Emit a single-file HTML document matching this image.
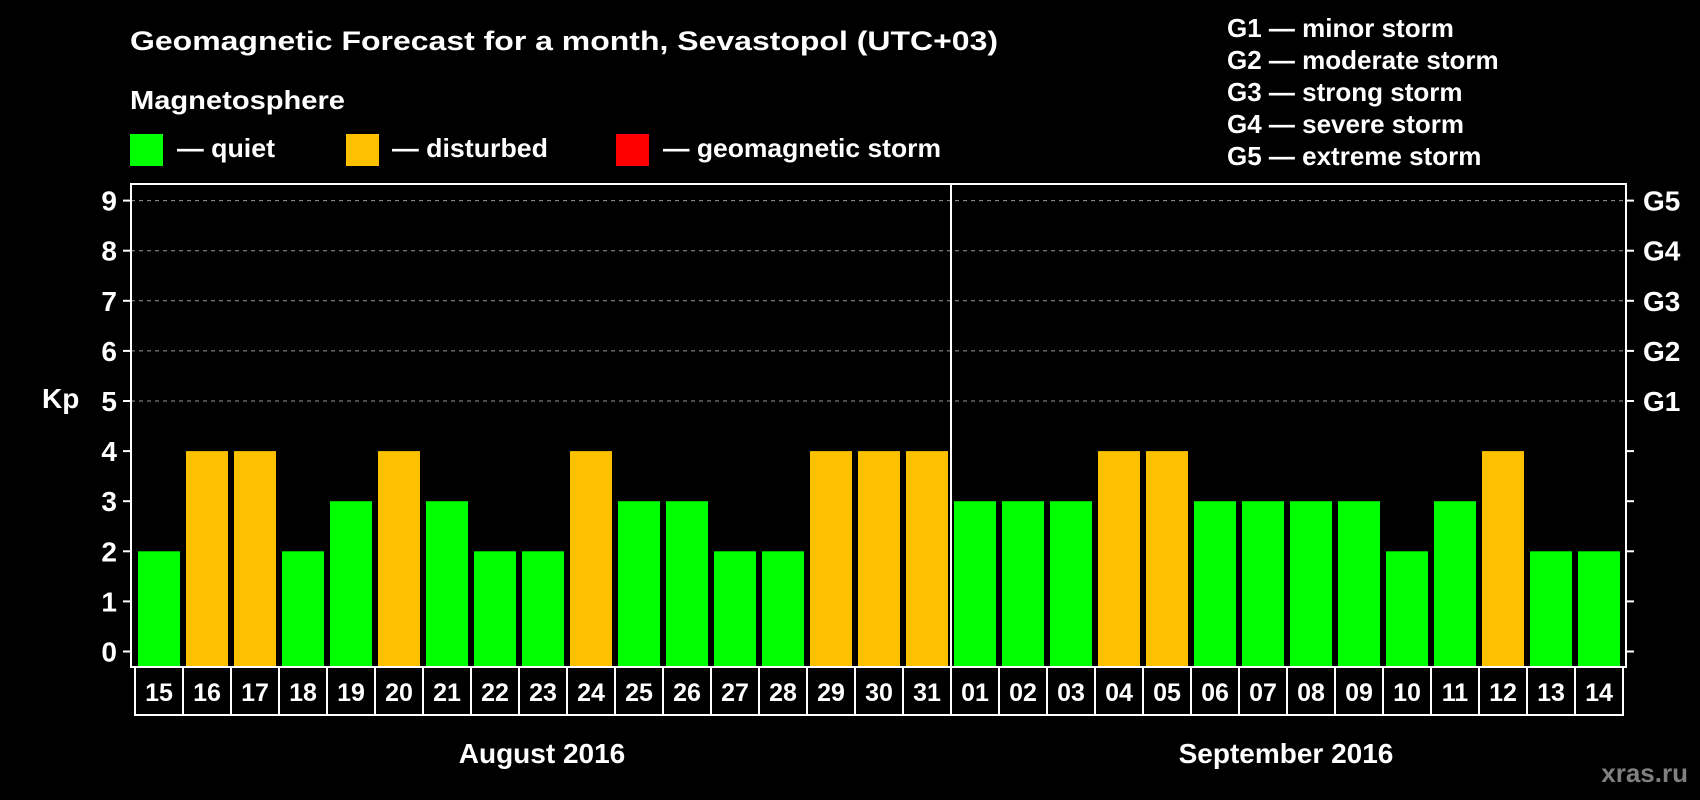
<!DOCTYPE html>
<html><head><meta charset="utf-8"><style>
html,body{margin:0;padding:0;background:#000;}
svg{display:block;font-family:"Liberation Sans",Arial,sans-serif;font-weight:bold;}
</style></head><body>
<svg id="c" width="1700" height="800" viewBox="0 0 1700 800">
<rect x="0" y="0" width="1700" height="800" fill="#000"/>
<text x="130" y="50" fill="#fff" font-size="27" textLength="868" lengthAdjust="spacingAndGlyphs">Geomagnetic Forecast for a month, Sevastopol (UTC+03)</text>
<text x="130" y="109" fill="#fff" font-size="26" textLength="215" lengthAdjust="spacingAndGlyphs">Magnetosphere</text>
<g><rect x="130" y="134" width="33" height="32" fill="#00ff00"/><text x="177" y="157" fill="#fff" font-size="26" textLength="98" lengthAdjust="spacingAndGlyphs">— quiet</text></g>
<g><rect x="346" y="134" width="33" height="32" fill="#ffc000"/><text x="392" y="157" fill="#fff" font-size="26" textLength="156" lengthAdjust="spacingAndGlyphs">— disturbed</text></g>
<g><rect x="616" y="134" width="33" height="32" fill="#ff0000"/><text x="663" y="157" fill="#fff" font-size="26" textLength="278" lengthAdjust="spacingAndGlyphs">— geomagnetic storm</text></g>
<g fill="#fff" font-size="26">
<text x="1227" y="37">G1 — minor storm</text>
<text x="1227" y="69">G2 — moderate storm</text>
<text x="1227" y="101">G3 — strong storm</text>
<text x="1227" y="133">G4 — severe storm</text>
<text x="1227" y="165">G5 — extreme storm</text>
</g>
<text x="42" y="408" fill="#fff" font-size="28">Kp</text>
<g id="plot"></g>
<text x="542" y="763" fill="#fff" font-size="28" text-anchor="middle">August 2016</text>
<text x="1286" y="763" fill="#fff" font-size="28" text-anchor="middle">September 2016</text>
<text x="1688" y="782" fill="#808080" font-size="26" text-anchor="end">xras.ru</text>
</svg>
<script>
const days = ["15","16","17","18","19","20","21","22","23","24","25","26","27","28","29","30","31","01","02","03","04","05","06","07","08","09","10","11","12","13","14"];
const kpValues = [2,4,4,2,3,4,3,2,2,4,3,3,2,2,4,4,4,3,3,3,4,4,3,3,3,3,2,3,4,2,2];
const yTicks = [0,1,2,3,4,5,6,7,8,9];
const gLabels = ["","","","","","G1","G2","G3","G4","G5"];
const NS="http://www.w3.org/2000/svg";
const g=document.getElementById('plot');
const L=131,R=1626,T=184,B=667;
const y0=651.5, unit=50.1;
function yS(v){return y0-v*unit;}
function xS(i){return 138+i*48;}
const BW=42;
function mk(t,a){const e=document.createElementNS(NS,t);for(const k in a)e.setAttribute(k,a[k]);g.appendChild(e);return e;}
yTicks.forEach((v,i)=>{
  const y=yS(v);
  if(v>=5){const gl=mk('line',{x1:L,x2:R,y1:y,y2:y,stroke:'#999','stroke-dasharray':'4,4','stroke-width':1});
    
    }
  const tl=mk('line',{x1:L-8,x2:L,y1:y,y2:y,stroke:'#fff','stroke-width':2});
  
  
  const tr=mk('line',{x1:R,x2:R+8,y1:y,y2:y,stroke:'#fff','stroke-width':2});
  
  
  const t=mk('text',{x:117,y:y+10,fill:'#fff','font-size':28,'text-anchor':'end'});t.textContent=v;
  
  
  if(gLabels[i]){const t2=mk('text',{x:1643,y:y+10,fill:'#fff','font-size':28});t2.textContent=gLabels[i];
    
    }
});
kpValues.forEach((v,i)=>{
  const col=v>=5?'#ff0000':(v>=4?'#ffc000':'#00ff00');
  const r=mk('rect',{x:xS(i),y:yS(v),width:BW,height:B-yS(v),fill:col});
  
  
  const bx=mk('rect',{x:xS(i)-3,y:B,width:48,height:48,fill:'none',stroke:'#fff','stroke-width':2});
  
  
  const t=mk('text',{x:xS(i)+BW/2,y:B+34,fill:'#fff','font-size':25,'text-anchor':'middle'});t.textContent=days[i];
  
  
});
const fr=mk('rect',{x:L,y:T,width:R-L,height:B-T,fill:'none',stroke:'#fff','stroke-width':2});


const sepIdx=days.indexOf("01");
const sx=xS(sepIdx)-3;
const dv=mk('line',{x1:sx,x2:sx,y1:T,y2:B,stroke:'#fff','stroke-width':2});


</script>
</body></html>
